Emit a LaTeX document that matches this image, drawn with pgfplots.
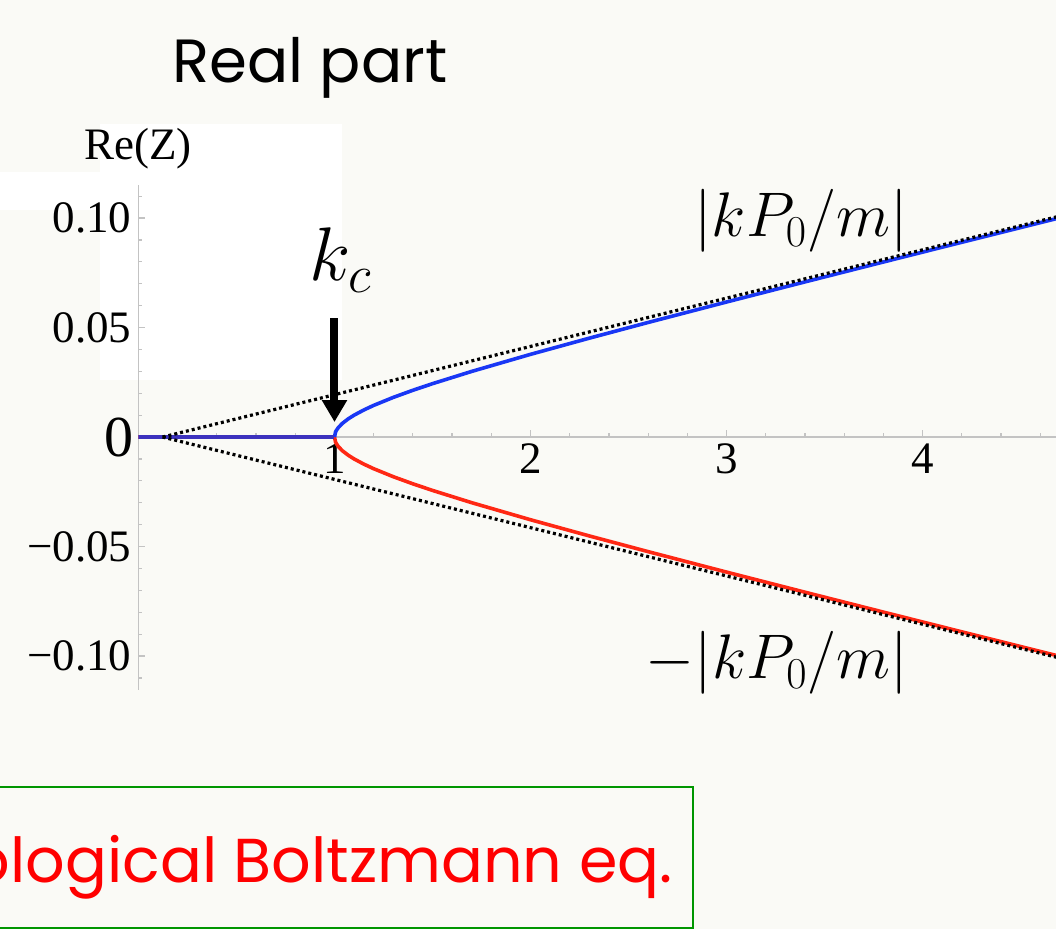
\documentclass[border=0pt]{standalone}
\usepackage{fix-cm}
\usepackage{pgfplots}
\pgfplotsset{compat=1.18}
\usepackage{fontspec}
\setmainfont{Liberation Serif}
\newfontfamily\slidefont{Poppins}
\usetikzlibrary{arrows.meta}

\definecolor{slidebg}{RGB}{250,250,246}
\definecolor{branchblue}{RGB}{25,55,245}
\definecolor{branchred}{RGB}{255,40,20}
\definecolor{flatblue}{RGB}{60,50,190}
\definecolor{boxgreen}{RGB}{0,150,0}
\definecolor{axisgray}{RGB}{195,195,195}

\begin{document}
% picture units: 1 unit = 0.5pt, y measured downward from the top edge
\begin{tikzpicture}[x=0.5pt,y=-0.5pt]
\useasboundingbox (0,0) rectangle (1056,929);
\clip (0,0) rectangle (1056,929);
\fill[slidebg] (0,0) rectangle (1056,929);
\fill[white] (100,124) rectangle (342,380);
\fill[white] (0,172) rectangle (100,210);

\begin{axis}[
  anchor=south west, at={(69.25pt,-345pt)},
  x=98pt, y=1095pt,
  xmin=0, xmax=4.75, ymin=-0.1155, ymax=0.1151,
  axis lines=middle,
  axis line style={axisgray, line width=0.6pt, -},
  tick style={axisgray, line width=0.6pt},
  tick align=inside,
  major tick length=3.5pt, minor tick length=2pt,
  xtick={1,2,3,4},
  minor xtick={0.2,0.4,0.6,0.8,1.2,1.4,1.6,1.8,2.2,2.4,2.6,2.8,3.2,3.4,3.6,3.8,4.2,4.4,4.6},
  ytick={-0.1,-0.05,0.05,0.1},
  yticklabels={−0.10,−0.05,0.05,0.10},
  minor ytick={-0.11,-0.09,-0.08,-0.07,-0.06,-0.04,-0.03,-0.02,-0.01,0.01,0.02,0.03,0.04,0.06,0.07,0.08,0.09,0.11},
  xticklabels={1,2,3,4},
  tick label style={font=\fontsize{22.5}{27}\selectfont, text=black},
  clip=true,
]
% lower branch (drawn first, also along the axis up to k_c)
\addplot[branchred, line width=1.8pt] coordinates {
  (0,0) (1,0) (1.005,-0.00218) (1.01,-0.00309) (1.02,-0.00438) (1.04,-0.00623)
  (1.07,-0.00830) (1.1,-0.00999) (1.15,-0.01238) (1.2,-0.01446) (1.3,-0.01811)
  (1.4,-0.02136) (1.5,-0.02437) (1.7,-0.02997) (2.0,-0.03776) (2.3,-0.04515)
  (2.6,-0.05232) (3.0,-0.06166) (3.4,-0.07084) (3.8,-0.07992) (4.2,-0.08893)
  (4.6,-0.09788) (4.75,-0.10123)};
% upper branch
\addplot[branchblue, line width=1.8pt] coordinates {
  (1,0) (1.005,0.00218) (1.01,0.00309) (1.02,0.00438) (1.04,0.00623)
  (1.07,0.00830) (1.1,0.00999) (1.15,0.01238) (1.2,0.01446) (1.3,0.01811)
  (1.4,0.02136) (1.5,0.02437) (1.7,0.02997) (2.0,0.03776) (2.3,0.04515)
  (2.6,0.05232) (3.0,0.06166) (3.4,0.07084) (3.8,0.07992) (4.2,0.08893)
  (4.6,0.09788) (4.75,0.10123)};
% both branches coincide below k_c
\addplot[flatblue, line width=2pt] coordinates {(0,0) (1,0)};
% asymptotes +-|k P0/m|
\addplot[black, line width=1.6pt, dash pattern=on 1.5pt off 1.5pt] coordinates {(0.123,0) (4.75,0.1020)};
\addplot[black, line width=1.6pt, dash pattern=on 1.5pt off 1.5pt] coordinates {(0.123,0) (4.75,-0.1020)};
% arrow marking k_c
\draw[black, line width=4pt, -{Triangle[width=12pt,length=11pt]}]
  (axis cs:1,0.0543) -- (axis cs:1,0.00685);
\end{axis}

\node[anchor=base east, inner sep=0, font=\fontsize{29}{34}\selectfont] at (134,457) {0};
\node[anchor=base, inner sep=0, font=\fontsize{22.5}{27}\selectfont] at (138,160) {Re(Z)};
\node[anchor=base, inner sep=0, font=\fontsize{38}{44}\selectfont] at (341,281) {$k_c$};
\node[anchor=base, inner sep=0, font=\fontsize{31.5}{38}\selectfont] at (801,237) {$|kP_0/m|$};
\node[anchor=base, inner sep=0, font=\fontsize{31.5}{38}\selectfont] at (777,679) {$-|kP_0/m|$};

\node[anchor=base west, inner sep=0, font=\slidefont\fontsize{30.5}{36}\selectfont] at (172,83) {Real part};

\draw[boxgreen, line width=1.4pt] (-10,787) rectangle (693,928);
\node[anchor=base east, inner sep=0, text=red, font=\slidefont\fontsize{31}{36}\selectfont] at (673,883) {Phenomenological Boltzmann eq.};
\end{tikzpicture}
\end{document}
